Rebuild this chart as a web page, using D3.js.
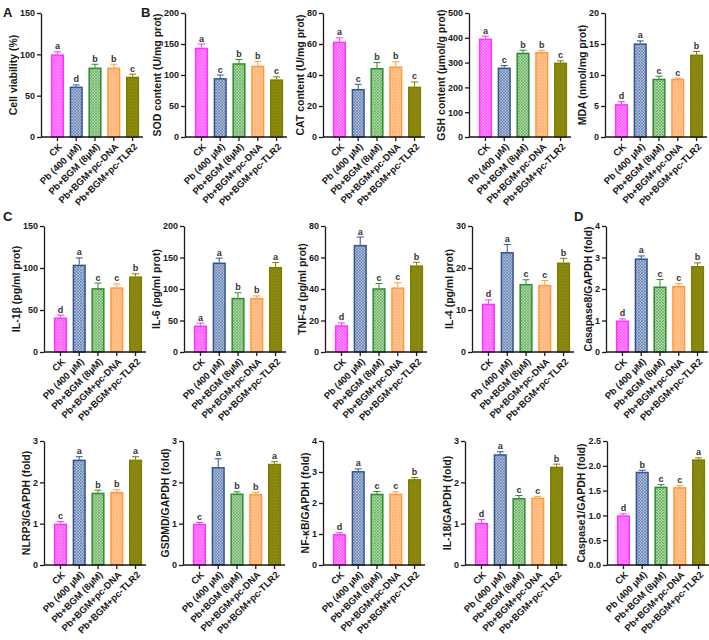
<!DOCTYPE html>
<html><head><meta charset="utf-8">
<script src="https://cdn.jsdelivr.net/npm/d3@7"></script>
<style>body{margin:0;background:#fff;} text{font-family:"Liberation Sans",Arial,sans-serif;}</style>
</head><body>
<script>
const categories = ["CK","Pb (400 μM)","Pb+BGM (8μM)","Pb+BGM+pc-DNA","Pb+BGM+pc-TLR2"];

const cellViability = [100, 61, 84, 84, 73];
const cellViabilityErr = [3, 2, 4, 4, 3];
const cellViabilityLetters = ["a","d","b","b","c"];

const sod = [144, 95, 119, 115, 93];
const sodErr = [6, 5, 6, 7, 4];
const sodLetters = ["a","c","b","b","c"];

const cat = [61.5, 31, 44.5, 45.5, 32.5];
const catErr = [2.5, 3, 3.5, 3, 3];
const catLetters = ["a","c","b","b","c"];

const gsh = [397, 280, 340, 343, 300];
const gshErr = [10, 8, 10, 6, 7];
const gshLetters = ["a","c","b","b","c"];

const mda = [5.3, 15.1, 9.4, 9.4, 13.3];
const mdaErr = [0.4, 0.4, 0.4, 0.1, 0.5];
const mdaLetters = ["d","a","c","c","b"];

const il1b = [41, 104, 76, 77, 90];
const il1bErr = [3, 8, 6, 4, 3];
const il1bLetters = ["d","a","c","c","b"];

const il6 = [42, 142, 86, 86, 135];
const il6Err = [4, 7, 8, 3, 7];
const il6Letters = ["a","a","b","b","a"];

const tnfa = [17, 68, 40.5, 41, 55];
const tnfaErr = [1.5, 5, 3, 3, 2];
const tnfaLetters = ["d","a","c","c","b"];

const il4 = [11.5, 23.8, 16.2, 16, 21.3];
const il4Err = [0.9, 1.8, 1, 1, 1];
const il4Letters = ["d","a","c","c","b"];

const casp8 = [1.0, 2.97, 2.08, 2.1, 2.73];
const casp8Err = [0.05, 0.08, 0.22, 0.07, 0.1];
const casp8Letters = ["d","a","c","c","b"];

const nlrp3 = [1.0, 2.55, 1.75, 1.77, 2.55];
const nlrp3Err = [0.05, 0.07, 0.06, 0.05, 0.07];
const nlrp3Letters = ["c","a","b","b","a"];

const gsdmd = [1.0, 2.37, 1.73, 1.72, 2.45];
const gsdmdErr = [0.03, 0.2, 0.04, 0.04, 0.05];
const gsdmdLetters = ["c","a","b","b","a"];

const nfkb = [1.0, 3.03, 2.3, 2.3, 2.77];
const nfkbErr = [0.04, 0.07, 0.07, 0.06, 0.05];
const nfkbLetters = ["d","a","c","c","b"];

const il18 = [1.02, 2.68, 1.62, 1.63, 2.38];
const il18Err = [0.08, 0.06, 0.06, 0.03, 0.06];
const il18Letters = ["d","a","c","c","b"];

const casp1 = [1.0, 1.88, 1.58, 1.57, 2.13];
const casp1Err = [0.03, 0.03, 0.04, 0.03, 0.03];
const casp1Letters = ["d","b","c","c","a"];

const panelDefs = [
  {title:"Cell viability (%)", v:cellViability, e:cellViabilityErr, l:cellViabilityLetters, ticks:[0,50,100,150], fmt:"d"},
  {title:"SOD content (U/mg prot)", v:sod, e:sodErr, l:sodLetters, ticks:[0,50,100,150,200], fmt:"d"},
  {title:"CAT content (U/mg prot)", v:cat, e:catErr, l:catLetters, ticks:[0,20,40,60,80], fmt:"d"},
  {title:"GSH content (μmol/g prot)", v:gsh, e:gshErr, l:gshLetters, ticks:[0,100,200,300,400,500], fmt:"d"},
  {title:"MDA (nmol/mg prot)", v:mda, e:mdaErr, l:mdaLetters, ticks:[0,5,10,15,20], fmt:"d"},
  {title:"IL-1β (pg/ml prot)", v:il1b, e:il1bErr, l:il1bLetters, ticks:[0,50,100,150], fmt:"d"},
  {title:"IL-6 (pg/ml prot)", v:il6, e:il6Err, l:il6Letters, ticks:[0,50,100,150,200], fmt:"d"},
  {title:"TNF-α (pg/ml prot)", v:tnfa, e:tnfaErr, l:tnfaLetters, ticks:[0,20,40,60,80], fmt:"d"},
  {title:"IL-4 (pg/ml prot)", v:il4, e:il4Err, l:il4Letters, ticks:[0,10,20,30], fmt:"d"},
  {title:"Casapase8/GAPDH (fold)", v:casp8, e:casp8Err, l:casp8Letters, ticks:[0,1,2,3,4], fmt:"d"},
  {title:"NLRP3/GAPDH (fold)", v:nlrp3, e:nlrp3Err, l:nlrp3Letters, ticks:[0,1,2,3], fmt:"d"},
  {title:"GSDMD/GAPDH (fold)", v:gsdmd, e:gsdmdErr, l:gsdmdLetters, ticks:[0,1,2,3], fmt:"d"},
  {title:"NF-κB/GAPDH (fold)", v:nfkb, e:nfkbErr, l:nfkbLetters, ticks:[0,1,2,3,4], fmt:"d"},
  {title:"IL-18/GAPDH (fold)", v:il18, e:il18Err, l:il18Letters, ticks:[0,1,2,3], fmt:"d"},
  {title:"Caspase1/GAPDH (fold)", v:casp1, e:casp1Err, l:casp1Letters, ticks:[0,0.5,1,1.5,2,2.5], fmt:".1f"}
];

// layout (positions only)
const rowTop = [13, 226, 441];
const rowBottom = [137, 352, 565];
const axisXs = [[41,185,323,469,605],[44,184,325,472,606],[44,183,323,465,607]];
const panelLetters = [{t:"A",x:3,y:17},{t:"B",x:141,y:17},{t:"C",x:3,y:221},{t:"D",x:574,y:221}];

const strokeCols = ["#ff33ff","#2f5597","#2e8b2e","#ff9a3c","#7d7d00"];
const bgCols = ["#ff88ff","#a9b9d6","#a9d6a0","#ffc79a","#8f8f14"];
const hatchCols = ["#ff33ff","#3b5d99","#3d943d","#ff9a3c","#6e6e00"];

const svg = d3.select("body").append("svg").attr("width",709).attr("height",640);
const defs = svg.append("defs");
strokeCols.forEach((c,i)=>{
  const p = defs.append("pattern").attr("id","pat"+i).attr("patternUnits","userSpaceOnUse")
    .attr("width",3).attr("height",3);
  p.append("rect").attr("width",3).attr("height",3).attr("fill",bgCols[i]);
  p.append("path").attr("d","M0,0L3,3M3,0L0,3").attr("stroke",hatchCols[i]).attr("stroke-width",0.6).attr("opacity",0.7);
});

const ink = "#1a1a1a";

panelDefs.forEach((pd, idx)=>{
  const row = Math.floor(idx/5), col = idx%5;
  const ax = axisXs[row][col], top = rowTop[row], bottom = rowBottom[row];
  const g = svg.append("g");
  const y = d3.scaleLinear().domain([0, d3.max(pd.ticks)]).range([bottom, top]);
  const x = d3.scaleBand().domain(categories).range([ax+8, ax+100]).paddingInner(0.3).paddingOuter(0.1);

  const yAx = g.append("g").attr("transform",`translate(${ax},0)`)
    .call(d3.axisLeft(y).tickValues(pd.ticks).tickSize(4).tickSizeOuter(0).tickPadding(2).tickFormat(d3.format(pd.fmt)));
  yAx.select(".domain").attr("stroke",ink).attr("stroke-width",1.3);
  yAx.selectAll(".tick line").attr("stroke",ink).attr("stroke-width",1.3);
  yAx.selectAll(".tick text").attr("fill",ink).style("font-size","9px").style("font-weight","bold");

  const data = categories.map((c,i)=>({c, v:pd.v[i], e:pd.e[i], l:pd.l[i], i}));
  g.selectAll("rect.bar").data(data).join("rect").attr("class","bar")
    .attr("x",d=>x(d.c)+0.75).attr("width",x.bandwidth()-1.5)
    .attr("y",d=>y(d.v)+0.75).attr("height",d=>Math.max(0,bottom - y(d.v)-0.75))
    .attr("fill",d=>`url(#pat${d.i})`).attr("stroke",d=>strokeCols[d.i]).attr("stroke-width",1.5);

  g.selectAll("path.err").data(data).join("path").attr("class","err")
    .attr("d",d=>{const cx=x(d.c)+x.bandwidth()/2, y0=y(d.v), y1=y(d.v+d.e);
      return `M${cx},${y0}V${y1}M${cx-3.5},${y1}H${cx+3.5}`;})
    .attr("stroke",d=>strokeCols[d.i]).attr("stroke-width",1).attr("fill","none");

  g.selectAll("text.sig").data(data).join("text").attr("class","sig")
    .attr("x",d=>x(d.c)+x.bandwidth()/2).attr("y",d=>y(d.v+d.e)-2.5)
    .attr("text-anchor","middle").attr("fill","#333").style("font-size","9px").style("font-weight","bold")
    .text(d=>d.l);

  const xAx = g.append("g").attr("transform",`translate(0,${bottom})`)
    .call(d3.axisBottom(x).tickSize(4).tickSizeOuter(0).tickFormat(""));
  xAx.select(".domain").attr("d",`M${ax},0H${ax+102}`).attr("stroke",ink).attr("stroke-width",1.3);
  xAx.selectAll(".tick line").attr("stroke",ink).attr("stroke-width",1.3);

  g.selectAll("text.cat").data(data).join("text").attr("class","cat")
    .attr("transform",d=>`translate(${x(d.c)+x.bandwidth()/2+3},${bottom+8}) rotate(-45)`)
    .attr("text-anchor","end").attr("dy","0.35em").attr("fill",ink)
    .style("font-size","9.5px").style("font-weight","bold").text(d=>d.c);

  const bb = yAx.node().getBBox();
  g.append("text").attr("transform",`translate(${ax + bb.x - 3},${(top+bottom)/2}) rotate(-90)`)
    .attr("text-anchor","middle").attr("fill",ink).style("font-size","10.5px").style("font-weight","bold")
    .text(pd.title);
});

svg.selectAll("text.plabel").data(panelLetters).join("text").attr("class","plabel")
  .attr("x",d=>d.x).attr("y",d=>d.y).attr("fill",ink)
  .style("font-size","13px").style("font-weight","bold").text(d=>d.t);
</script>
</body></html>
